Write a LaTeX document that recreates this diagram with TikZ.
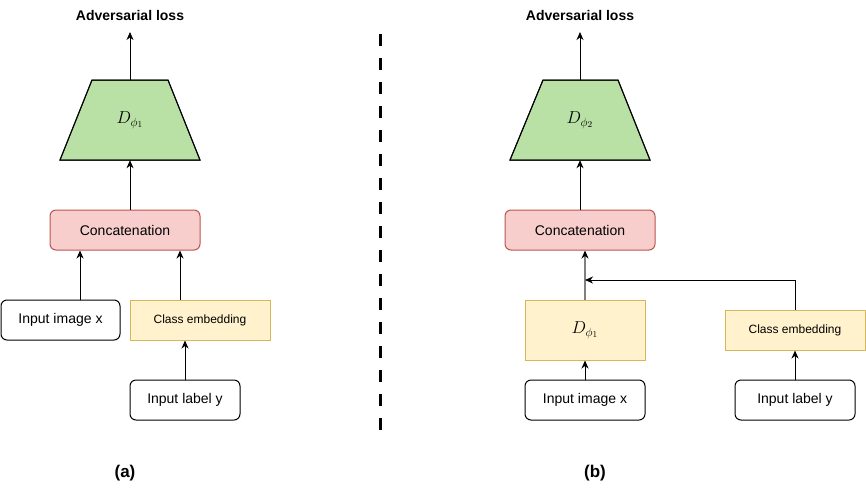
\documentclass[tikz,border=0pt]{standalone}
\usepackage{fontspec}
\setmainfont{Liberation Sans}
\usetikzlibrary{arrows.meta}
\definecolor{greenfill}{HTML}{B9E0A5}
\definecolor{redfill}{HTML}{F8CECC}
\definecolor{redline}{HTML}{B85450}
\definecolor{yelfill}{HTML}{FFF2CC}
\definecolor{yelline}{HTML}{D6B656}
\tikzset{
  arr/.style={line width=1pt, -{Stealth[length=8pt,width=7pt,inset=2.5pt]}},
  plainbox/.style={draw, line width=1pt, rounded corners=6pt, fill=white, inner sep=0pt, font=\fontsize{14}{16}\selectfont},
  concatbox/.style={draw=redline, fill=redfill, line width=1pt, rounded corners=6pt, inner sep=0pt, font=\fontsize{14}{16}\selectfont},
  embbox/.style={draw=yelline, fill=yelfill, line width=1pt, inner sep=0pt, font=\fontsize{12}{14}\selectfont},
  trapfill/.style={draw, fill=greenfill, line width=1pt},
  title/.style={font=\bfseries\fontsize{14}{16}\selectfont},
  caption/.style={font=\bfseries\fontsize{17}{19}\selectfont},
  mathlabel/.style={font=\fontsize{18}{20}\selectfont, inner sep=0pt, minimum width=140pt, minimum height=80pt}
}
\begin{document}
\begin{tikzpicture}[x=1pt,y=-1pt]
\useasboundingbox (0,0) rectangle (866,493);

% ---------- left panel (a) ----------
\node[title] (lossA) at (130,15) {Adversarial loss};
\fill[trapfill] (92,80) -- (168,80) -- (200,160) -- (60,160) -- cycle;
\draw[line width=1pt] (92,80) -- (168,80) -- (200,160) -- (60,160) -- cycle;
\node[mathlabel] (trapA) at (130,120) {$D_{\phi_1}$};
\node[concatbox, minimum width=150pt, minimum height=40pt] (catA) at (125,230) {Concatenation};
\node[plainbox, minimum width=119pt, minimum height=40pt] (imgA) at (60.5,320) {Input image x};
\node[embbox, minimum width=140pt, minimum height=40pt] (embA) at (200,320) {Class embedding};
\node[plainbox, minimum width=110pt, minimum height=40pt] (labA) at (185,400) {Input label y};
\node[caption] (capA) at (125,473) {(a)};

\draw[arr] (trapA.north) -- (130,32);
\draw[arr] (catA.north -| trapA.south) -- (trapA.south);
\draw[arr] (imgA.north -| 80,0) -- (catA.south -| 80,0);
\draw[arr] (embA.north -| 180,0) -- (catA.south -| 180,0);
\draw[arr] (labA.north) -- (embA.south -| labA.north);

% ---------- dashed separator ----------
\coordinate (sepTop) at (380,34);
\coordinate (sepBot) at (380,432);
\draw[line width=3pt, dash pattern=on 12pt off 12pt] (sepTop) -- (sepBot);

% ---------- right panel (b) ----------
\node[title] (lossB) at (580,15) {Adversarial loss};
\fill[trapfill] (543,80) -- (618,80) -- (650,160) -- (510,160) -- cycle;
\draw[line width=1pt] (543,80) -- (618,80) -- (650,160) -- (510,160) -- cycle;
\node[mathlabel] (trapB) at (580,120) {$D_{\phi_2}$};
\node[concatbox, minimum width=150pt, minimum height=40pt] (catB) at (580,230) {Concatenation};
\node[embbox, minimum width=120pt, minimum height=60pt, font=\fontsize{18}{20}\selectfont] (dB) at (585,330) {$D_{\phi_1}$};
\node[embbox, minimum width=140pt, minimum height=40pt] (embB) at (795,330) {Class embedding};
\node[plainbox, minimum width=120pt, minimum height=40pt] (imgB) at (585,400) {Input image x};
\node[plainbox, minimum width=120pt, minimum height=40pt] (labB) at (795,400) {Input label y};
\node[caption] (capB) at (595,473) {(b)};

\draw[arr] (trapB.north) -- (580,32);
\draw[arr] (catB.north -| trapB.south) -- (trapB.south);
\draw[arr] (imgB.north) -- (dB.south);
\draw[arr] (labB.north) -- (embB.south);
\draw[line width=1.2pt, draw=gray, -{Stealth[length=8pt,width=7pt,inset=2.5pt,color=black]}] (dB.north) -- (catB.south -| dB.north);
\coordinate (joinB) at (585,280);
\draw[arr] (embB.north) |- (joinB);
\end{tikzpicture}
\end{document}
